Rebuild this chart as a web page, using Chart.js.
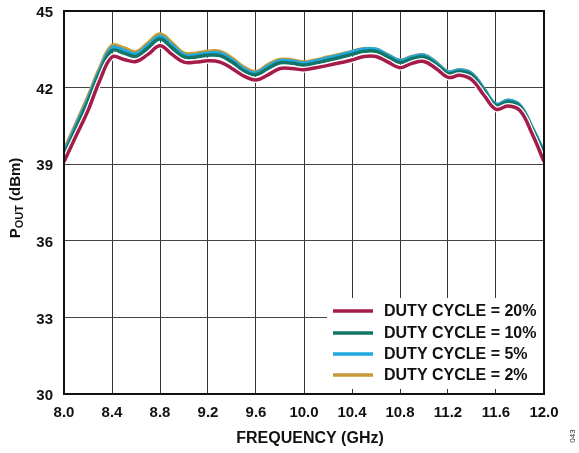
<!DOCTYPE html>
<html>
<head>
<meta charset="utf-8">
<script src="https://cdn.jsdelivr.net/npm/chart.js@4/dist/chart.umd.min.js"></script>
<style>
  html, body { margin: 0; padding: 0; background: #fff; }
  #wrap { width: 579px; height: 453px; position: relative; }
</style>
</head>
<body>
<div id="wrap"><canvas id="chart" width="579" height="453"></canvas></div>
<script>
// Data Store
const freqGHz = [8.0, 8.1, 8.2, 8.3, 8.4, 8.5, 8.6, 8.7, 8.8, 8.9, 9.0, 9.1, 9.2, 9.3, 9.4, 9.5, 9.6, 9.7, 9.8, 9.9,
  10.0, 10.1, 10.2, 10.3, 10.4, 10.5, 10.6, 10.7, 10.8, 10.9, 11.0, 11.1, 11.2, 11.3, 11.4, 11.5, 11.6, 11.7, 11.8, 11.9, 12.0];

const duty20 = [39.1, 40.1, 41.1, 42.3, 43.2, 43.1, 43.02, 43.3, 43.64, 43.3, 43.0, 43.0, 43.05, 43.0, 42.75, 42.45, 42.3, 42.5, 42.75, 42.75,
  42.7, 42.78, 42.87, 42.97, 43.08, 43.22, 43.22, 43.0, 42.78, 42.95, 43.02, 42.75, 42.4, 42.48, 42.3, 41.7, 41.15, 41.28, 41.1, 40.2, 39.1];
const duty10 = [39.35, 40.4, 41.45, 42.6, 43.45, 43.35, 43.22, 43.55, 43.9, 43.55, 43.2, 43.2, 43.27, 43.25, 43.0, 42.65, 42.5, 42.75, 42.97, 42.95,
  42.88, 42.96, 43.07, 43.18, 43.3, 43.42, 43.42, 43.2, 42.98, 43.13, 43.2, 42.92, 42.55, 42.63, 42.48, 41.88, 41.3, 41.45, 41.25, 40.4, 39.4];
const duty5 = [39.45, 40.5, 41.55, 42.7, 43.56, 43.46, 43.32, 43.66, 44.0, 43.66, 43.28, 43.28, 43.35, 43.35, 43.08, 42.73, 42.57, 42.83, 43.05, 43.03,
  42.96, 43.04, 43.16, 43.27, 43.4, 43.51, 43.5, 43.27, 43.06, 43.2, 43.27, 42.98, 42.61, 42.69, 42.54, 41.94, 41.35, 41.5, 41.3, 40.45, 39.48];
const duty2 = [39.55, 40.6, 41.65, 42.8, 43.65, 43.55, 43.4, 43.75, 44.1, 43.75, 43.35, 43.35, 43.42, 43.42, 43.15, 42.8, 42.62, 42.9, 43.1, 43.08,
  43.0, 43.08, 43.2, 43.3, 43.42, 43.52, 43.5, 43.28, 43.08, 43.22, 43.28, 43.0, 42.62, 42.7, 42.55, 41.95, 41.35, 41.5, 41.3, 40.45, 39.45];

const seriesLabels = ['DUTY CYCLE = 20%', 'DUTY CYCLE = 10%', 'DUTY CYCLE = 5%', 'DUTY CYCLE = 2%'];
const xTicks = [8.0, 8.4, 8.8, 9.2, 9.6, 10.0, 10.4, 10.8, 11.2, 11.6, 12.0];
const yTicks = [30, 33, 36, 39, 42, 45];

const colors = ['#a51c4b', '#137468', '#1fa9de', '#c99a38'];

function toPoints(arr) {
  return freqGHz.map((f, i) => ({ x: f, y: arr[i] }));
}

function lineSet(label, arr, color, width) {
  return {
    label: label,
    data: toPoints(arr),
    borderColor: color,
    borderWidth: width,
    pointRadius: 0,
    fill: false,
    tension: 0.4
  };
}

// frame, axis titles, legend box, figure number
const decorPlugin = {
  id: 'decor',
  afterDatasetsDraw(chart) {
    const ctx = chart.ctx;
    const a = chart.chartArea;
    ctx.save();

    // legend box inside plot
    const bx = 327, by = 298, bw = a.right - 327, bh = 91;
    ctx.fillStyle = '#fff';
    ctx.fillRect(bx, by, bw, bh);
    const rowsY = [311, 333, 354, 375];
    seriesLabels.forEach((lab, i) => {
      ctx.strokeStyle = colors[i];
      ctx.lineWidth = 3.5;
      ctx.beginPath();
      ctx.moveTo(333, rowsY[i]);
      ctx.lineTo(373, rowsY[i]);
      ctx.stroke();
      ctx.fillStyle = '#111';
      ctx.font = 'bold 16px "Liberation Sans", Arial, sans-serif';
      ctx.textAlign = 'left';
      ctx.textBaseline = 'middle';
      ctx.fillText(lab, 384, rowsY[i] + 1);
    });

    // plot frame
    ctx.strokeStyle = '#111';
    ctx.lineWidth = 2;
    ctx.strokeRect(a.left, a.top, a.right - a.left, a.bottom - a.top);

    // x title
    ctx.fillStyle = '#111';
    ctx.font = 'bold 16px "Liberation Sans", Arial, sans-serif';
    ctx.textAlign = 'center';
    ctx.textBaseline = 'middle';
    ctx.fillText('FREQUENCY (GHz)', 310, 439);

    // y title with subscript
    ctx.translate(15, 198);
    ctx.rotate(-Math.PI / 2);
    const fBig = 'bold 15px "Liberation Sans", Arial, sans-serif';
    const fSmall = 'bold 11px "Liberation Sans", Arial, sans-serif';
    ctx.font = fBig; const wP = ctx.measureText('P').width;
    ctx.font = fSmall; const wO = ctx.measureText('OUT').width;
    ctx.font = fBig; const wR = ctx.measureText(' (dBm)').width;
    let x0 = -(wP + wO + wR) / 2;
    ctx.textAlign = 'left';
    ctx.textBaseline = 'alphabetic';
    ctx.font = fBig; ctx.fillText('P', x0, 5);
    ctx.font = fSmall; ctx.fillText('OUT', x0 + wP, 8);
    ctx.font = fBig; ctx.fillText(' (dBm)', x0 + wP + wO, 5);
    ctx.restore();

    // figure number
    ctx.save();
    ctx.translate(573, 436);
    ctx.rotate(-Math.PI / 2);
    ctx.font = '8px "Liberation Sans", Arial, sans-serif';
    ctx.fillStyle = '#333';
    ctx.textAlign = 'center';
    ctx.textBaseline = 'middle';
    ctx.fillText('043', 0, 0);
    ctx.restore();
  }
};

const ctx = document.getElementById('chart').getContext('2d');
new Chart(ctx, {
  type: 'line',
  data: {
    datasets: [
      lineSet(seriesLabels[0], duty20, colors[0], 3.5),
      lineSet('', duty20, '#ffffff', 6),
      lineSet(seriesLabels[1], duty10, colors[1], 3.5),
      lineSet(seriesLabels[2], duty5, colors[2], 3.5),
      lineSet(seriesLabels[3], duty2, colors[3], 3.5)
    ]
  },
  options: {
    responsive: false,
    animation: false,
    layout: { padding: { top: 11, right: 35, left: 0, bottom: 0 } },
    plugins: {
      legend: { display: false },
      tooltip: { enabled: false }
    },
    scales: {
      x: {
        type: 'linear',
        min: 8,
        max: 12,
        afterBuildTicks: s => { s.ticks = xTicks.map(v => ({ value: v })); },
        afterFit: s => { s.height = 59; s.paddingLeft = 0; s.paddingRight = 0; },
        grid: { color: '#333', lineWidth: 1, drawTicks: false },
        border: { display: false },
        ticks: {
          color: '#111',
          font: { family: '"Liberation Sans", Arial, sans-serif', size: 15, weight: 'bold' },
          padding: 10,
          maxRotation: 0,
          autoSkip: false,
          callback: v => v.toFixed(1)
        }
      },
      y: {
        min: 30,
        max: 45,
        afterBuildTicks: s => { s.ticks = yTicks.map(v => ({ value: v })); },
        afterFit: s => { s.width = 64; s.paddingTop = 0; s.paddingBottom = 0; },
        grid: { color: '#444', lineWidth: 1, drawTicks: false },
        border: { display: false },
        ticks: {
          color: '#111',
          font: { family: '"Liberation Sans", Arial, sans-serif', size: 15, weight: 'bold' },
          padding: 11,
          labelOffset: 2
        }
      }
    }
  },
  plugins: [decorPlugin]
});
</script>
</body>
</html>
